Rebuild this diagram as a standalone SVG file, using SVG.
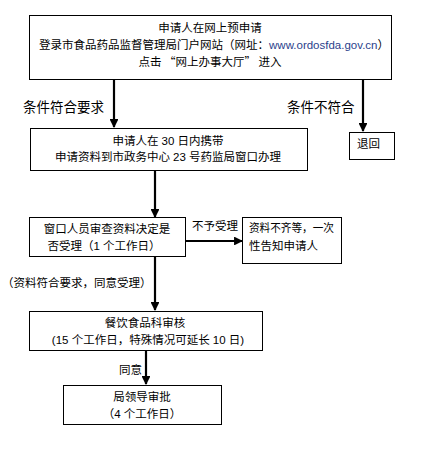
<svg xmlns="http://www.w3.org/2000/svg" width="424" height="449" viewBox="0 0 424 449">
<style>
.box{fill:#fff;stroke:#000;stroke-width:1}
.t{font-family:"Liberation Sans","Noto Sans CJK SC",sans-serif;font-size:11.5px;fill:#000}
.cjk{font-family:"Noto Sans CJK SC",sans-serif}
.c{text-anchor:middle}
.lb{font-family:"Liberation Sans","Noto Sans CJK SC",sans-serif;font-size:13.5px;fill:#000}
.ln{stroke:#000;stroke-width:2.2;fill:none}
.url{fill:#2b3f8c}
</style>
<defs>
<marker id="ah" viewBox="0 0 10 10" refX="9" refY="5" markerWidth="4" markerHeight="4" orient="auto" markerUnits="strokeWidth">
<path d="M0,0 L10,5 L0,10 z" fill="#000"/>
</marker>
</defs>
<rect width="424" height="449" fill="#fff"/>
<g id="connectors">
<line class="ln" x1="114" y1="80" x2="114" y2="127" marker-end="url(#ah)"/>
<text class="lb" x="23" y="112">条件符合要求</text>
<line class="ln" x1="363" y1="80" x2="363" y2="131" marker-end="url(#ah)"/>
<text class="lb" x="287" y="112">条件不符合</text>
<line class="ln" x1="155" y1="170" x2="155" y2="217" marker-end="url(#ah)"/>
<line class="ln" x1="185" y1="241" x2="242" y2="241" marker-end="url(#ah)"/>
<text class="t" x="192" y="230">不予受理</text>
<line class="ln" x1="155" y1="256" x2="155" y2="310" marker-end="url(#ah)"/>
<text class="t" x="2" y="287">（资料符合要求，同意受理）</text>
<line class="ln" x1="146" y1="350" x2="146" y2="384" marker-end="url(#ah)"/>
<text class="t" x="119" y="374">同意</text>
</g>
<g id="n1">
<rect class="box" x="29.5" y="15.5" width="362" height="64"/>
<text class="t c" x="210" y="32">申请人在网上预申请</text>
<text class="t c" x="214" y="49">登录市食品药品监督管理局门户网站（网址：<tspan class="url">www.ordosfda.gov.cn</tspan>）</text>
<text class="t c cjk" x="210" y="66">点击 “网上办事大厅” 进入</text>
</g>
<g id="n2">
<rect class="box" x="30.5" y="128.5" width="277" height="42"/>
<text class="t c" x="168" y="145">申请人在 30 日内携带</text>
<text class="t c" x="168" y="161">申请资料到市政务中心 23 号药监局窗口办理</text>
</g>
<g id="n3">
<rect class="box" x="349.5" y="132.5" width="45" height="27"/>
<text class="t" x="357" y="148">退回</text>
</g>
<g id="n4">
<rect class="box" x="29.5" y="217.5" width="156" height="39"/>
<text class="t c" x="107" y="233">窗口人员审查资料决定是</text>
<text class="t c" x="104" y="250">否受理（1 个工作日）</text>
</g>
<g id="n5">
<rect class="box" x="242.5" y="217.5" width="99" height="46"/>
<text class="t" x="249" y="232" textLength="85" lengthAdjust="spacingAndGlyphs">资料不齐等，一次</text>
<text class="t" x="249" y="250">性告知申请人</text>
</g>
<g id="n6">
<rect class="box" x="29.5" y="311.5" width="233" height="39"/>
<text class="t c" x="145" y="327">餐饮食品科审核</text>
<text class="t c" x="148" y="344">(15 个工作日，特殊情况可延长 10 日)</text>
</g>
<g id="n7">
<rect class="box" x="63.5" y="385.5" width="158" height="39"/>
<text class="t c" x="142" y="401">局领导审批</text>
<text class="t c" x="142" y="418">（4 个工作日）</text>
</g>
</svg>
